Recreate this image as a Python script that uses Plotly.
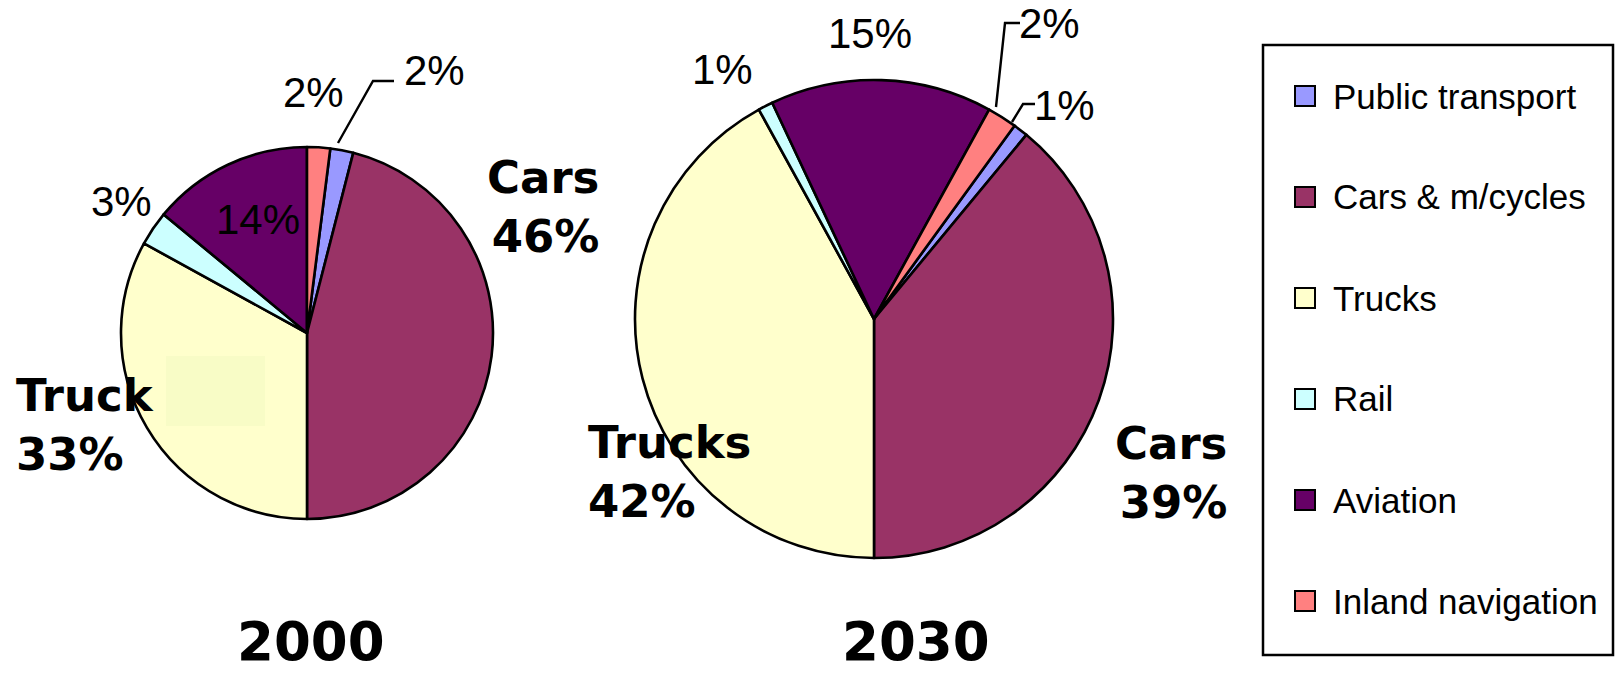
import plotly.graph_objects as go

W, H = 1616, 674

# Transport modes (legend order) and their shares, in percent
modes = ["Public transport", "Cars & m/cycles", "Trucks", "Rail", "Aviation", "Inland navigation"]
share_2000 = [2, 46, 33, 3, 14, 2]
share_2030 = [1, 39, 42, 1, 15, 2]
years = ["2000", "2030"]
colors = ["#9999FF", "#993366", "#FFFFCC", "#CCFFFF", "#660066", "#FF8080"]

# pie geometry in pixels: centre x, centre y, radius, start rotation (deg)
pies = [
    dict(cx=307, cy=333, r=186, rot=7.2),
    dict(cx=874, cy=319, r=239, rot=36.0),
]


def px(x):
    return x / W


def py(y):
    return 1 - y / H


fig = go.Figure()
for vals, g in zip([share_2000, share_2030], pies):
    fig.add_trace(go.Pie(
        labels=modes, values=vals, sort=False, direction="clockwise",
        rotation=g["rot"], textinfo="none", hoverinfo="label+percent",
        marker=dict(colors=colors, line=dict(color="black", width=2.6)),
        domain=dict(x=[px(g["cx"] - g["r"]), px(g["cx"] + g["r"])],
                    y=[py(g["cy"] + g["r"]), py(g["cy"] - g["r"])]),
        showlegend=False,
    ))

small = dict(family="Liberation Sans, Arial, sans-serif", size=42, color="black")
big = dict(family="DejaVu Sans, Verdana, sans-serif", size=45, color="black")

ann = []


def label(x, y, text, font, xanchor="center", align="center", yanchor="middle"):
    ann.append(dict(x=px(x), y=py(y), xref="paper", yref="paper", text=text,
                    showarrow=False, font=font, xanchor=xanchor, yanchor=yanchor,
                    align=align))


def pct(v):
    return f"{v}%"


# 2000 labels
i = {m: k for k, m in enumerate(modes)}
label(313, 93, pct(share_2000[i["Inland navigation"]]), small)
label(434, 70, pct(share_2000[i["Public transport"]]), small)
label(601, 207, f"<b>Cars<br>{pct(share_2000[i['Cars & m/cycles']])}</b>", big,
      xanchor="right", align="right")
label(14, 425, f"<b>Truck<br>{pct(share_2000[i['Trucks']])}</b>", big,
      xanchor="left", align="left")
label(121, 201, pct(share_2000[i["Rail"]]), small)
label(258, 220, pct(share_2000[i["Aviation"]]), small)

# 2030 labels
label(722, 69, pct(share_2030[i["Rail"]]), small)
label(870, 34, pct(share_2030[i["Aviation"]]), small)
label(1049, 23, pct(share_2030[i["Inland navigation"]]), small)
label(1064, 105, pct(share_2030[i["Public transport"]]), small)
label(586, 472, f"<b>Trucks<br>{pct(share_2030[i['Trucks']])}</b>", big,
      xanchor="left", align="left")
label(1229, 473, f"<b>Cars<br>{pct(share_2030[i['Cars & m/cycles']])}</b>", big,
      xanchor="right", align="right")

# year captions, sitting on the bottom edge
yfont = dict(family="DejaVu Sans, Verdana, sans-serif", size=53, color="black")
label(311, H, f"<b>{years[0]}</b>", yfont, yanchor="bottom")
label(916, H, f"<b>{years[1]}</b>", yfont, yanchor="bottom")

shapes = []

# faint highlight patch inside the 2000 trucks slice
shapes.append(dict(type="rect", xref="paper", yref="paper",
                   x0=px(166), x1=px(265), y0=py(426), y1=py(356),
                   fillcolor="#F8FCC6", line=dict(width=0), layer="above"))


def leader(points):
    d = "M " + " L ".join(f"{px(x)},{py(y)}" for x, y in points)
    shapes.append(dict(type="path", xref="paper", yref="paper", path=d,
                       line=dict(color="black", width=2.4)))


leader([(338, 143), (373, 81), (394, 81)])
leader([(996, 107), (1005, 23), (1020, 23)])
leader([(1012, 122), (1023, 104), (1035, 104)])

# legend box
shapes.append(dict(type="rect", xref="paper", yref="paper",
                   x0=px(1263), x1=px(1613), y0=py(655), y1=py(45),
                   line=dict(color="black", width=2.5), fillcolor="white",
                   layer="below"))
leg_font = dict(family="Liberation Sans, Arial, sans-serif", size=35, color="black")
for k, (m, c) in enumerate(zip(modes, colors)):
    yc = 96 + 101 * k
    shapes.append(dict(type="rect", xref="paper", yref="paper",
                       x0=px(1295), x1=px(1315), y0=py(yc + 10), y1=py(yc - 10),
                       fillcolor=c, line=dict(color="black", width=2)))
    ann.append(dict(x=px(1331), y=py(yc), xref="paper", yref="paper", text=m,
                    showarrow=False, font=leg_font, xanchor="left", yanchor="middle"))

fig.update_layout(
    width=W, height=H, margin=dict(l=0, r=0, t=0, b=0),
    paper_bgcolor="white", plot_bgcolor="white",
    annotations=ann, shapes=shapes,
)

fig.write_html("out.html")
